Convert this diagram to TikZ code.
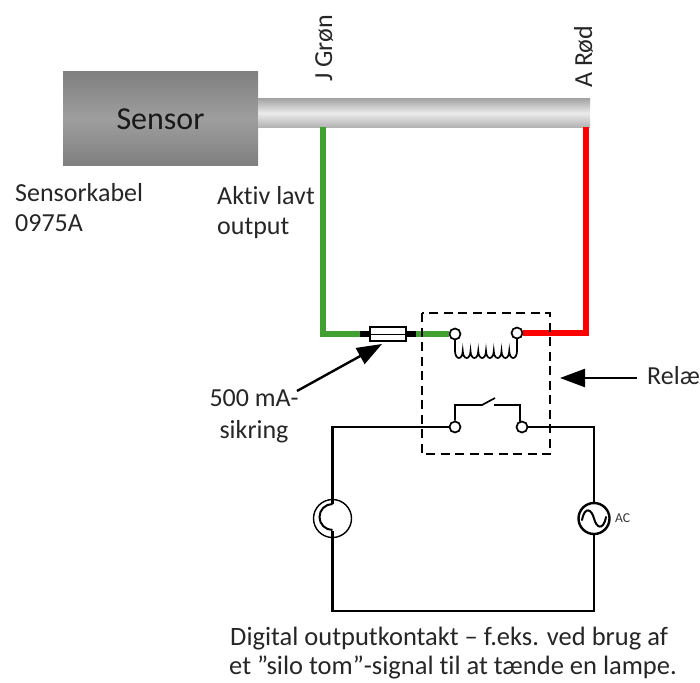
\documentclass[tikz,border=0pt]{standalone}
\usepackage{fontspec}
\setmainfont{Carlito}[Ligatures=NoCommon]
\usetikzlibrary{arrows.meta,calc}
\definecolor{wgreen}{RGB}{64,160,48}
\definecolor{wred}{RGB}{255,0,0}
\tikzset{
  wire/.style={line width=2.5pt,draw=black},
  thick wire/.style={line width=6pt,line cap=butt,line join=miter},
  term/.style={circle,draw=black,fill=white,line width=1.7pt,minimum size=11pt,inner sep=0pt},
  lab/.style={font=\fontsize{26}{30}\selectfont,align=left,inner sep=0pt,text=black!85},
  pointer/.style={line width=2.4pt,-{Triangle[length=25pt,width=18pt]}},
}
\begin{document}
\begin{tikzpicture}[x=1pt,y=-1pt]
\useasboundingbox (0,0) rectangle (700,682);
% sensor + cable
\path[top color=black!50,bottom color=black!50,middle color=black!38] (63,72) rectangle (258,165);
\node[font=\fontsize{32}{36}\selectfont,text=black!90,inner sep=0pt] (sensor) at (160.5,119) {Sensor};
\path[top color=black!35,bottom color=black!30,middle color=black!8] (258,99) rectangle (590,127);
\coordinate (gtop) at (323,127);
\coordinate (rtop) at (586,127);
% terminals
\node[term] (c1) at (455,334) {};
\node[term] (c2) at (517,333) {};
\node[term] (s1) at (455,427) {};
\node[term] (s2) at (522,427) {};
% fuse
\node[draw=black,fill=white,line width=1.4pt,minimum width=36pt,minimum height=14pt,inner sep=0pt] (fuse) at (388,334) {};
\draw[line width=1pt] (fuse.west) -- (fuse.east);
% green and red wires
\coordinate (gcorner) at (323,334);
\coordinate (rcorner) at (586,333);
\draw[thick wire,draw=wgreen] (gtop) -- (gcorner) -- (fuse.west);
\draw[thick wire,draw=wgreen] (fuse.east) -- (c1.west);
\draw[thick wire,draw=wred] (rtop) -- (rcorner) -- (c2.east);
\fill[black] (360,331) rectangle (370,337);
\fill[black] (406,331) rectangle (416,337);
% coil
\draw[line width=1.7pt,line cap=round] (c1.south) -- (455,351)
  \foreach \i in {1,...,8} { arc[start angle=180,end angle=360,x radius=3.875pt,y radius=7pt] }
  -- (c2.south);
% contact
\coordinate (sa) at (455,405);
\coordinate (sb) at (482,405);
\coordinate (sc) at (495,398);
\coordinate (sd) at (494,405);
\coordinate (se) at (520,405);
\draw[line width=1.7pt] (s1.north) -- (sa) -- (sb) -- (sc);
\draw[line width=1.7pt] (sd) -- (se) -- (520,422);
% load loop
\node[circle,draw=black,fill=white,line width=1.4pt,minimum size=38pt,inner sep=0pt] (lamp) at (332.5,518.5) {};
\draw[line width=2pt] (332.5,504) arc[start angle=90,end angle=270,radius=13pt];
\node[circle,draw=black,fill=white,line width=2.4pt,minimum size=31pt,inner sep=0pt] (ac) at (594,518.5) {};
\draw[line width=2pt,line cap=round] (582,520) .. controls (585,505) and (592,510) .. (594,518.5) .. controls (596,527) and (603,532) .. (606,517);
\node[font=\fontsize{13.5}{15}\selectfont,inner sep=0pt,text=black!80,anchor=west] (aclab) at (615,518) {AC};
\coordinate (tl) at (332.5,427);
\coordinate (tr) at (594,427);
\coordinate (bl) at (332.5,611);
\coordinate (br) at (594,611);
\draw[wire,line join=miter] (s1.west) -- (tl) -- (lamp.north);
\draw[wire,line join=miter] (lamp.south) -- (bl) -- (br) -- (ac.south);
\draw[wire,line join=miter] (ac.north) -- (tr) -- (s2.east);
\draw[wire] (332.5,499) -- (332.5,504);
\draw[wire] (332.5,531) -- (332.5,538);
% relay box
\draw[line width=1.3pt,dash pattern=on 9pt off 5.5pt] (422,313) rectangle (550,454);
% pointers
\coordinate (relayp) at (560,378);
\coordinate (relayt) at (637,378);
\coordinate (fusep) at (382,344);
\coordinate (fuset) at (297,391);
\draw[pointer] (relayt) -- (relayp);
\draw[pointer] (fuset) -- (fusep);
% labels
\node[lab,anchor=west] (relae) at (647,376) {Relæ};
\node[lab,anchor=west] (kabel) at (15,208) {Sensorkabel\\0975A};
\node[lab,anchor=west] (aktiv) at (217,213) {Aktiv lavt\\output};
\node[lab,align=center,font=\fontsize{26}{32}\selectfont] (sikr) at (254,416) {500 mA-\\sikring};
\node[lab,rotate=90,anchor=base west] (jg) at (332,82) {J Grøn};
\node[lab,rotate=90,anchor=base west] (ar) at (592,88) {A Rød};
\node[lab,anchor=north west,font=\fontsize{26.5}{29}\selectfont] (dig) at (229,627) {\hspace*{1pt}Digital outputkontakt – f.eks. ved brug af\\et ”silo tom”-signal til at tænde en lampe.};
\end{tikzpicture}
\end{document}
